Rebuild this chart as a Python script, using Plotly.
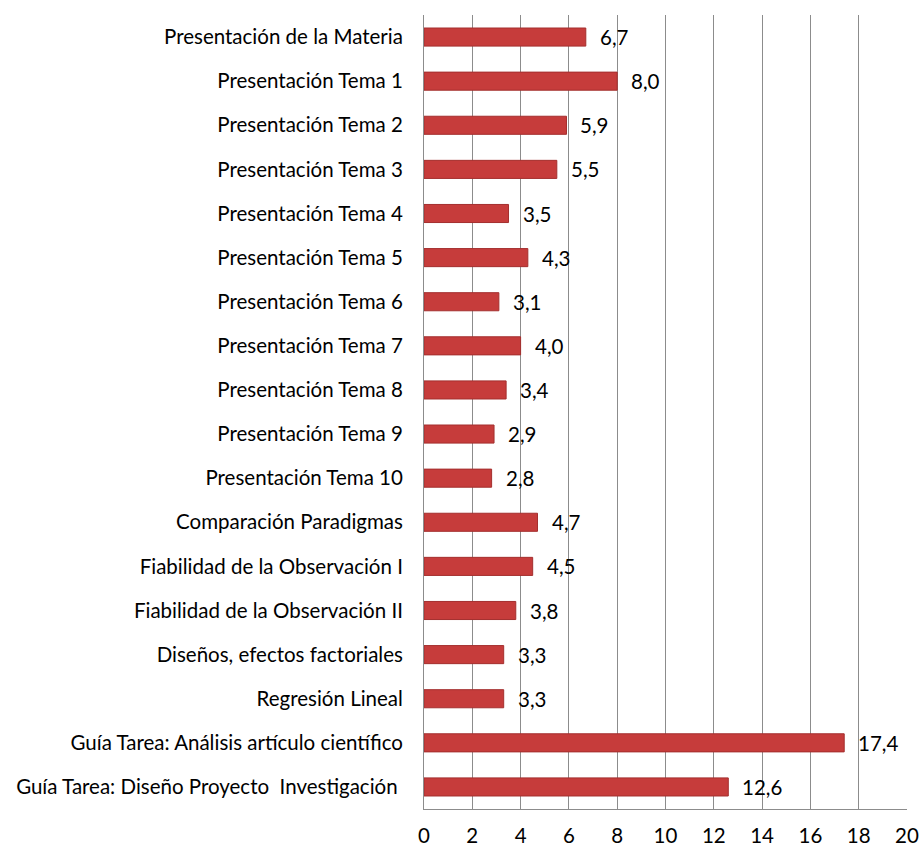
import plotly.graph_objects as go

categories = [
    "Presentación de la Materia",
    "Presentación Tema 1",
    "Presentación Tema 2",
    "Presentación Tema 3",
    "Presentación Tema 4",
    "Presentación Tema 5",
    "Presentación Tema 6",
    "Presentación Tema 7",
    "Presentación Tema 8",
    "Presentación Tema 9",
    "Presentación Tema 10",
    "Comparación Paradigmas",
    "Fiabilidad de la Observación I",
    "Fiabilidad de la Observación II",
    "Diseños, efectos factoriales",
    "Regresión Lineal",
    "Guía Tarea: Análisis artículo científico",
    "Guía Tarea: Diseño Proyecto  Investigación ",
]
values = [6.7, 8.0, 5.9, 5.5, 3.5, 4.3, 3.1, 4.0, 3.4, 2.9, 2.8, 4.7, 4.5, 3.8, 3.3, 3.3, 17.4, 12.6]
tick_vals = [0, 2, 4, 6, 8, 10, 12, 14, 16, 18, 20]

FONT = "Lato, 'Open Sans', sans-serif"
FS = 20.5

fig = go.Figure()
fig.add_trace(go.Bar(
    x=values,
    y=categories,
    orientation="h",
    width=0.41,
    marker=dict(color="#c63c3b", line=dict(color="#a42f2e", width=1)),
    hoverinfo="x+y",
))

for v, c in zip(values, categories):
    fig.add_annotation(
        x=v, y=c, text=f"{v:.1f}".replace(".", ","),
        xanchor="left", yanchor="middle", xshift=12, showarrow=False,
        font=dict(family=FONT, size=FS, color="#000000"),
    )

fig.update_layout(
    width=921, height=848,
    margin=dict(l=424, r=14, t=15, b=39, autoexpand=False),
    paper_bgcolor="white", plot_bgcolor="white",
    showlegend=False,
    separators=",.",
    font=dict(family=FONT, size=FS, color="#000000"),
)
fig.update_xaxes(
    range=[0, 20], tickvals=tick_vals, showgrid=True, gridcolor="#8c8c8c", gridwidth=1,
    showline=True, linecolor="#8c8c8c", linewidth=1, zeroline=False, automargin=False,
    ticks="", tickfont=dict(family=FONT, size=FS), ticklabelstandoff=8,
)
fig.update_yaxes(
    autorange="reversed", showline=True, linecolor="#8c8c8c", linewidth=1, automargin=False,
    showgrid=False, ticks="", ticklabelstandoff=16, tickfont=dict(family=FONT, size=FS),
)

fig.write_html(
    "out.html",
    config={"displayModeBar": False},
    post_script="document.body.style.margin='0';document.body.style.overflow='hidden';",
)
